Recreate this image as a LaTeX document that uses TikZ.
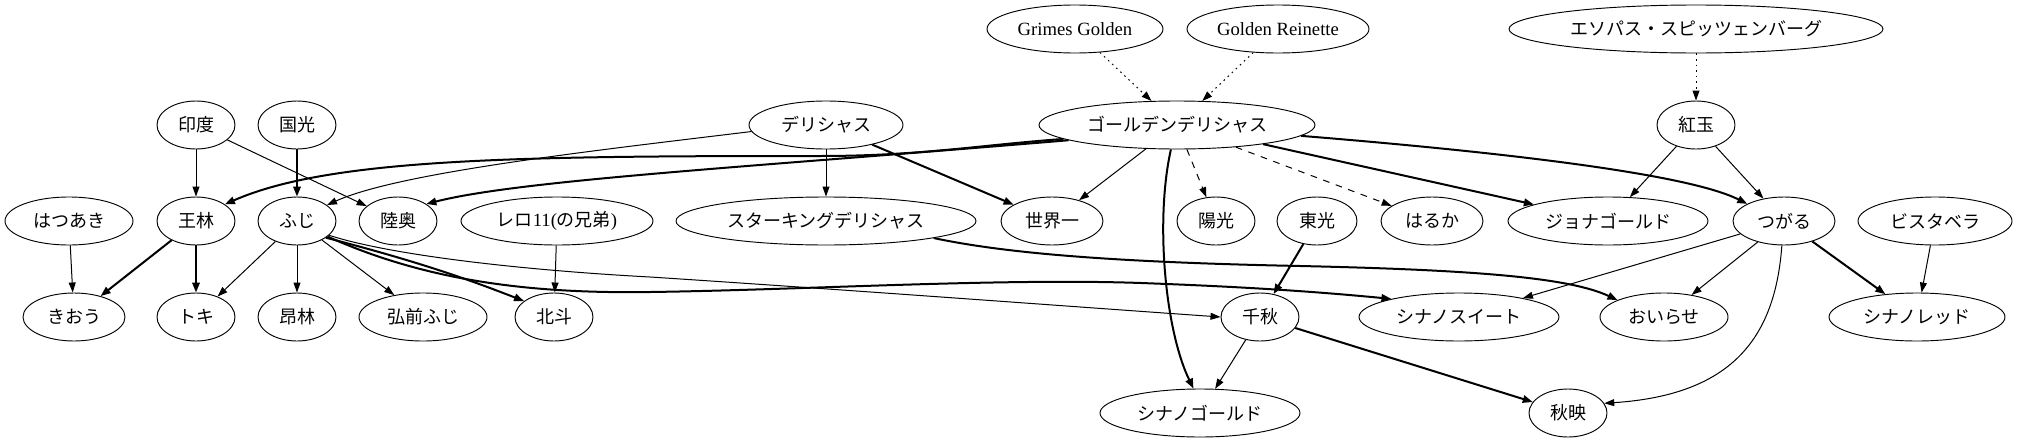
\documentclass[tikz,border=0pt]{standalone}
\usepackage{fontspec}
\setmainfont{Liberation Serif}
\newfontfamily\cjk{Noto Sans CJK JP}
\usetikzlibrary{arrows.meta,shapes.geometric}
\tikzset{
 nd/.style={draw, ellipse, line width=0.7pt, inner sep=0pt, minimum height=36pt, font=\fontsize{14}{16}\selectfont},
 jp/.style={font=\cjk\fontsize{13.5}{16}\selectfont},
 e/.style={line width=0.75pt, -{Triangle[length=7.5pt,width=5.2pt]}},
 et/.style={line width=1.5pt, -{Triangle[length=7.5pt,width=5.6pt]}},
 dot/.style={e, dash pattern=on 1.2pt off 3pt},
 dsh/.style={e, dash pattern=on 5pt off 5pt},
}
\begin{document}
\begin{tikzpicture}[x=0.75pt,y=-0.75pt]
\useasboundingbox (0,0) rectangle (2018,443);
% rank 0
\node[nd,minimum width=132pt] (GG) at (1075,29) {Grimes Golden};
\node[nd,minimum width=136.5pt] (GR) at (1278,29) {Golden Reinette};
\node[nd,jp,minimum width=280.5pt] (ES) at (1696,29) {エソパス・スピッツェンバーグ};
% rank 1
\node[nd,jp,minimum width=58.5pt] (indo) at (196,125) {印度};
\node[nd,jp,minimum width=58.5pt] (kokko) at (297,125) {国光};
\node[nd,jp,minimum width=115.5pt] (del) at (826,125) {デリシャス};
\node[nd,jp,minimum width=207pt] (gd) at (1177,125) {ゴールデンデリシャス};
\node[nd,jp,minimum width=58.5pt] (kogyoku) at (1696,125) {紅玉};
% rank 2
\node[nd,jp,minimum width=96pt] (hatsuaki) at (69,221) {はつあき};
\node[nd,jp,minimum width=58.5pt] (orin) at (196,221) {王林};
\node[nd,jp,minimum width=58.5pt] (fuji) at (297,221) {ふじ};
\node[nd,jp,minimum width=58.5pt] (mutsu) at (398,221) {陸奥};
\node[nd,minimum width=144pt] (rero) at (557,221) {{\cjk\fontsize{13.5}{16}\selectfont レロ}11({\cjk\fontsize{13.5}{16}\selectfont の兄弟})};
\node[nd,jp,minimum width=225pt] (stk) at (826,221) {スターキングデリシャス};
\node[nd,jp,minimum width=76.5pt] (sekai) at (1052,221) {世界一};
\node[nd,jp,minimum width=58.5pt] (yoko) at (1216,221) {陽光};
\node[nd,jp,minimum width=60pt] (toko) at (1317,221) {東光};
\node[nd,jp,minimum width=76.5pt] (haruka) at (1432,221) {はるか};
\node[nd,jp,minimum width=150pt] (jona) at (1608,221) {ジョナゴールド};
\node[nd,jp,minimum width=76.5pt] (tsugaru) at (1784,221) {つがる};
\node[nd,jp,minimum width=115.5pt] (vista) at (1935,221) {ビスタベラ};
% rank 3
\node[nd,jp,minimum width=76.5pt] (kio) at (74,317) {きおう};
\node[nd,jp,minimum width=58.5pt] (toki) at (196,317) {トキ};
\node[nd,jp,minimum width=58.5pt] (korin) at (297,317) {昂林};
\node[nd,jp,minimum width=96pt] (hirofuji) at (423,317) {弘前ふじ};
\node[nd,jp,minimum width=58.5pt] (hokuto) at (554,317) {北斗};
\node[nd,jp,minimum width=58.5pt] (senshu) at (1260,317) {千秋};
\node[nd,jp,minimum width=150pt] (sweet) at (1459,317) {シナノスイート};
\node[nd,jp,minimum width=96pt] (oirase) at (1664,317) {おいらせ};
\node[nd,jp,minimum width=132pt] (red) at (1917,317) {シナノレッド};
% rank 4
\node[nd,jp,minimum width=150pt] (sgold) at (1200,413) {シナノゴールド};
\node[nd,jp,minimum width=58.5pt] (akibae) at (1568,413) {秋映};
% edges
\draw[e] (indo) -- (orin);
\draw[e] (indo) -- (mutsu);
\draw[et] (kokko) -- (fuji);
\draw[e] (del.185) .. controls (600,150) and (400,172) .. (fuji.28);
\draw[e] (del) -- (stk);
\draw[et] (del) -- (sekai);
\draw[dot] (GG) -- (gd);
\draw[dot] (GR) -- (gd);
\draw[dot] (ES) -- (kogyoku);
\draw[et] (gd.187) .. controls (980,145) and (920,156) .. (820,156) .. controls (520,156) and (330,158) .. (orin.30);
\draw[et] (gd.188) .. controls (750,167) and (520,180) .. (mutsu.31);
\draw[e] (gd) -- (sekai);
\draw[dsh] (gd) -- (yoko);
\draw[dsh] (gd) -- (haruka);
\draw[et] (gd) -- (jona);
\draw[et] (gd.-5) .. controls (1450,148) and (1680,170) .. (tsugaru.155);
\draw[et] (gd.-104) .. controls (1155,220) and (1165,330) .. (sgold.105);
\draw[e] (kogyoku) -- (jona);
\draw[e] (kogyoku) -- (tsugaru);
\draw[e] (hatsuaki) -- (kio);
\draw[et] (orin) -- (kio);
\draw[et] (orin) -- (toki);
\draw[e] (fuji) -- (toki);
\draw[e] (fuji) -- (korin);
\draw[e] (fuji) -- (hirofuji);
\draw[et] (fuji.-30) .. controls (420,262) and (470,280) .. (hokuto.152);
\draw[et] (fuji.-27) .. controls (420,278) and (520,294) .. (650,292) .. controls (800,290) and (1000,278) .. (1141,283) .. controls (1250,287) and (1320,292) .. (sweet.165);
\draw[e] (fuji.-24) .. controls (390,255) and (520,270) .. (650,277) .. controls (850,290) and (1050,305) .. (senshu.180);
\draw[e] (rero) -- (hokuto);
\draw[et] (stk.-9) .. controls (1000,252) and (1100,262) .. (1300,266) .. controls (1480,270) and (1570,278) .. (oirase.160);
\draw[et] (toko) -- (senshu);
\draw[et] (senshu) -- (akibae);
\draw[e] (senshu) -- (sgold);
\draw[e] (tsugaru) -- (sweet);
\draw[e] (tsugaru) -- (oirase);
\draw[et] (tsugaru) -- (red);
\draw[e] (tsugaru.-95) .. controls (1775,340) and (1730,395) .. (akibae.15);
\draw[e] (vista) -- (red);
\end{tikzpicture}
\end{document}
